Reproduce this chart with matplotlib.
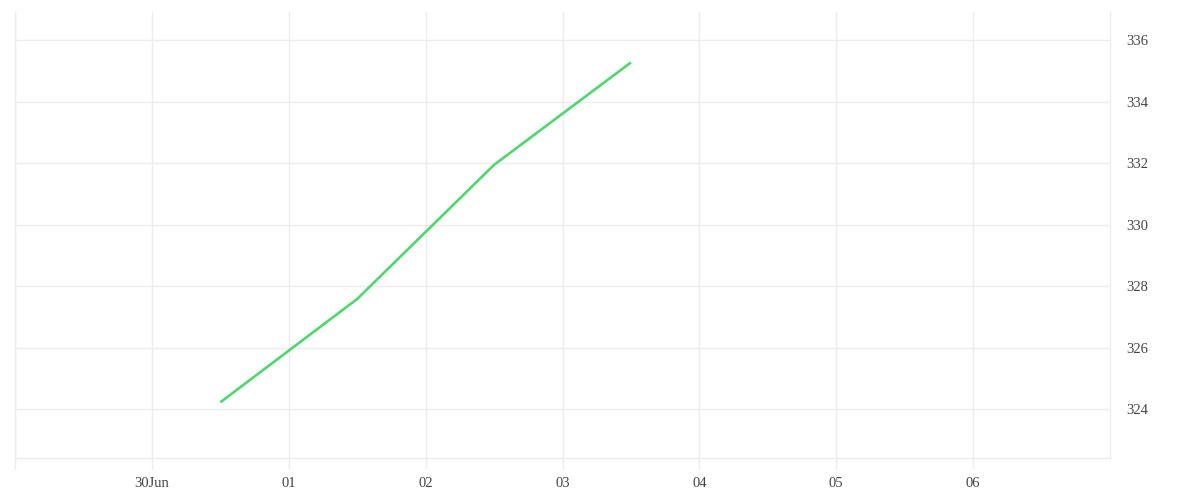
import matplotlib
matplotlib.use("Agg")
import matplotlib.pyplot as plt
import pandas as pd

dates = pd.to_datetime(["2023-06-30 12:00", "2023-07-01 12:00", "2023-07-02 12:00", "2023-07-03 12:00"])
values = [324.23, 327.59, 331.95, 335.28]

tick_days = pd.date_range("2023-06-29", "2023-07-06", freq="D")
tick_labels = ["", "30Jun", "01", "02", "03", "04", "05", "06"]
y_ticks = [324, 326, 328, 330, 332, 334, 336]

grid_color = "#ececec"
text_color = "#444444"

plt.rcParams["font.family"] = ["Liberation Serif", "DejaVu Serif"]

fig = plt.figure(figsize=(12, 5), dpi=100)
ax = fig.add_axes([15 / 1200, 42 / 500, 1095 / 1200, 446 / 500])

ax.plot(dates, values, color="#4fd66f", linewidth=1.9, solid_capstyle="butt")

ax.set_xlim(pd.Timestamp("2023-06-29"), pd.Timestamp("2023-07-07"))
ax.set_ylim(322.42, 336.92)

ax.set_xticks(tick_days)
ax.set_xticklabels(tick_labels)
ax.set_yticks(y_ticks)
ax.yaxis.tick_right()

ax.grid(True, color=grid_color, linewidth=1.0)
ax.set_axisbelow(True)

ax.spines["top"].set_visible(False)
for side in ["left", "right", "bottom"]:
    ax.spines[side].set_color(grid_color)
    ax.spines[side].set_linewidth(1.0)

ax.tick_params(axis="x", length=8, width=1.0, color=grid_color, pad=6,
               labelsize=10.5, labelcolor=text_color)
ax.tick_params(axis="y", length=0, pad=12, labelsize=10.5, labelcolor=text_color)

fig.savefig("out.png", dpi=100, facecolor="white")
